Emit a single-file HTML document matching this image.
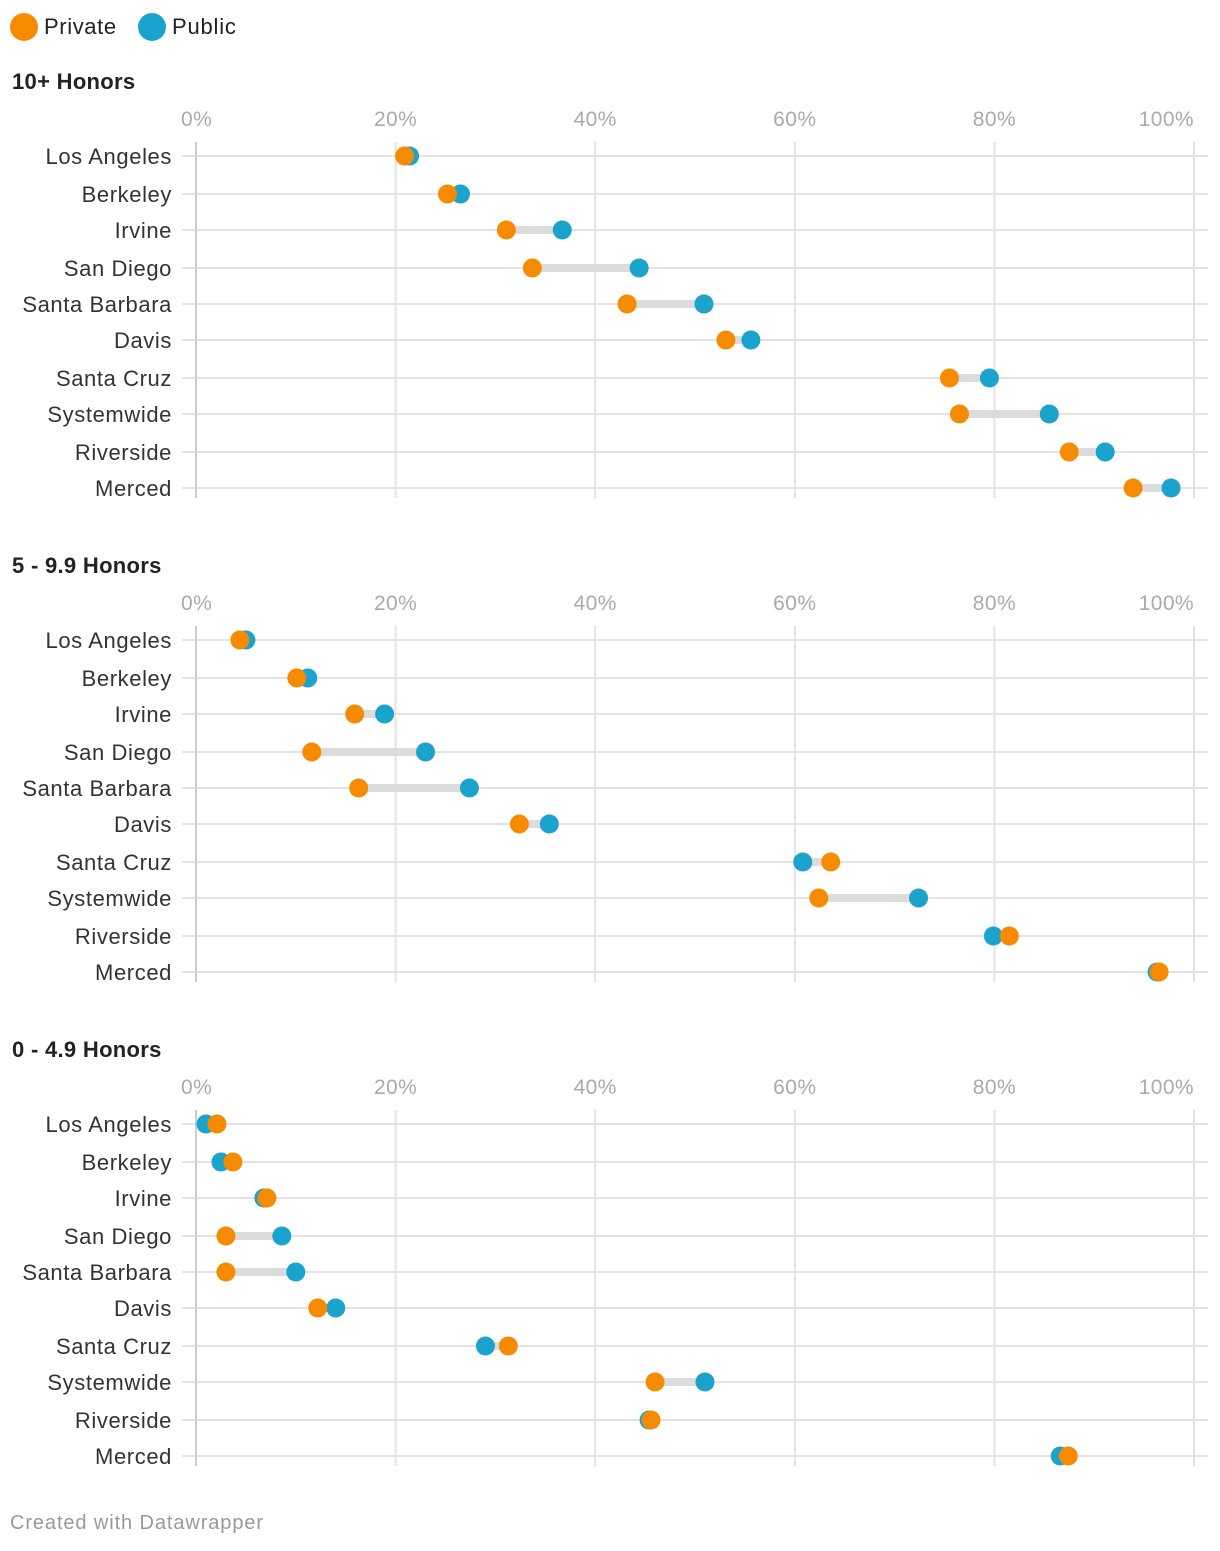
<!DOCTYPE html>
<html><head><meta charset="utf-8"><style>
body{margin:0;background:#fff;font-family:"Liberation Sans",sans-serif;}
svg text{font-family:"Liberation Sans",sans-serif;}
</style></head><body>
<svg id="chart" width="1220" height="1546" xmlns="http://www.w3.org/2000/svg">
<g>
<circle cx="24" cy="27" r="14" fill="#f68b00"/>
<text x="44" y="34" font-size="22" letter-spacing="0.6" fill="#222">Private</text>
<circle cx="152" cy="27" r="14" fill="#1aa3cc"/>
<text x="172" y="34" font-size="22" letter-spacing="0.8" fill="#222">Public</text>
</g>
<text x="10" y="1529" font-size="20" letter-spacing="0.9" fill="#999">Created with Datawrapper</text>
</svg>
<script>
const categories=["Los Angeles","Berkeley","Irvine","San Diego","Santa Barbara","Davis","Santa Cruz","Systemwide","Riverside","Merced"];
const panelTitles=["10+ Honors","5 - 9.9 Honors","0 - 4.9 Honors"];
const tickValues=[0,20,40,60,80,100];
const tickLabels=["0%","20%","40%","60%","80%","100%"];
const private1=[20.9,25.2,31.1,33.7,43.2,53.1,75.5,76.5,87.5,93.9];
const public1=[21.4,26.5,36.7,44.4,50.9,55.6,79.5,85.5,91.1,97.7];
const private2=[4.4,10.1,15.9,11.6,16.3,32.4,63.6,62.4,81.5,96.5];
const public2=[5.0,11.2,18.9,23.0,27.4,35.4,60.8,72.4,79.9,96.3];
const private3=[2.1,3.7,7.1,3.0,3.0,12.2,31.3,46.0,45.6,87.4];
const public3=[1.0,2.5,6.8,8.6,10.0,14.0,29.0,51.0,45.4,86.6];
const privateSeries=[private1,private2,private3];
const publicSeries=[public1,public2,public3];

const NS="http://www.w3.org/2000/svg";
const svg=document.getElementById('chart');
const rowOffsets=[0,38,74,112,148,184,222,258,296,332];
function xScale(v){return 196+v*9.98;}
function mk(tag,attrs,parent){const e=document.createElementNS(NS,tag);for(const k in attrs)e.setAttribute(k,attrs[k]);(parent||svg).appendChild(e);return e;}
for(let p=0;p<3;p++){
  const base=p*484;
  const g=mk('g',{});
  
  
  const t=mk('text',{x:12,y:base+89,'font-size':22,'font-weight':'bold',fill:'#222','letter-spacing':0.3},g);
  t.textContent=panelTitles[p];
  
  
  const y0=base+156;
  for(let i=0;i<categories.length;i++){
    const y=y0+rowOffsets[i];
    const l=mk('line',{x1:182,x2:1208,y1:y,y2:y,stroke:'#e3e3e3','stroke-width':2},g);
    
    
    const lb=mk('text',{x:172,y:y+8,'font-size':22,fill:'#333','text-anchor':'end','letter-spacing':0.6},g);
    lb.textContent=categories[i];
    
    
  }
  for(let k=0;k<tickValues.length;k++){
    const x=xScale(tickValues[k]);
    const l=mk('line',{x1:x,x2:x,y1:base+142,y2:base+498,stroke:k==0?'#ccc':'#e3e3e3','stroke-width':2},g);
    
    
    const tx=mk('text',{x:k==5?x:x,y:base+126,'font-size':21,fill:'#aaa','text-anchor':k==0?'start':(k==5?'end':'middle'),'letter-spacing':0.4},g);
    if(k==0)tx.setAttribute('x',x-15);
    tx.textContent=tickLabels[k];
    
    
  }
  for(let i=0;i<categories.length;i++){
    const y=y0+rowOffsets[i];
    const a=xScale(privateSeries[p][i]),b=xScale(publicSeries[p][i]);
    const r=mk('line',{x1:Math.min(a,b),x2:Math.max(a,b),y1:y,y2:y,stroke:'#dcdcdc','stroke-width':8},g);
    
    
    const c2=mk('circle',{cx:b,cy:y,r:9.5,fill:'#1aa3cc'},g);
    
    
    const c1=mk('circle',{cx:a,cy:y,r:9.5,fill:'#f68b00'},g);
    
    
  }
}
</script>
</body></html>
